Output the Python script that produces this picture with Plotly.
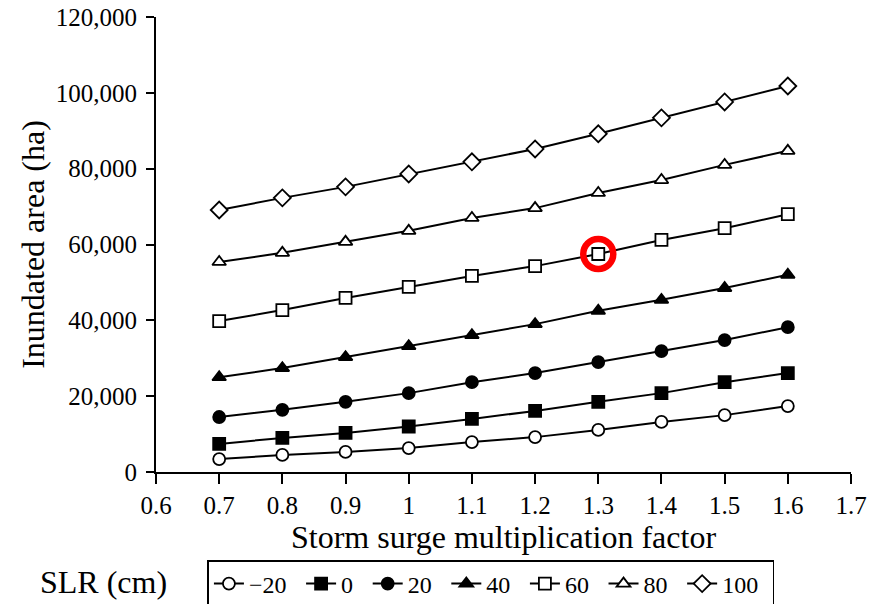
import plotly.graph_objects as go

factors = [0.7, 0.8, 0.9, 1.0, 1.1, 1.2, 1.3, 1.4, 1.5, 1.6]
slr_labels = ["\u221220", "0", "20", "40", "60", "80", "100"]
area_m20 = [3400, 4500, 5300, 6300, 7900, 9200, 11100, 13200, 15000, 17400]
area_0 = [7400, 9000, 10300, 12000, 14000, 16100, 18500, 20800, 23700, 26100]
area_20 = [14500, 16400, 18500, 20800, 23700, 26100, 29000, 31900, 34800, 38200]
area_40 = [25000, 27400, 30300, 33200, 36100, 39000, 42500, 45400, 48500, 52000]
area_60 = [39800, 42700, 45900, 48800, 51700, 54300, 57500, 61200, 64300, 68000]
area_80 = [55400, 57800, 60700, 63600, 67000, 69600, 73600, 77000, 81000, 84700]
area_100 = [69100, 72300, 75200, 78600, 81800, 85200, 89200, 93400, 97600, 101800]
series = [area_m20, area_0, area_20, area_40, area_60, area_80, area_100]
symbols = ["circle-open", "square", "circle", "triangle-up", "square-open", "triangle-up-open", "diamond-open"]
highlight_index = 6  # factor 1.3 on the 60 cm series

FONT = "Liberation Serif, Times New Roman, DejaVu Serif, serif"
fig = go.Figure()
for lab, ys, sym in zip(slr_labels, series, symbols):
    is_open = sym.endswith("open")
    fig.add_trace(go.Scatter(
        x=factors, y=ys, name=lab + "\u2009\u2009", mode="lines+markers",
        line=dict(color="black", width=2),
        marker=dict(symbol=sym.replace("-open", "") if is_open else sym,
                    size=12 if "diamond" not in sym else 13,
                    color="white" if is_open else "black",
                    line=dict(color="black", width=1.8)),
    ))

fig.add_trace(go.Scatter(
    x=[factors[highlight_index]], y=[area_60[highlight_index]], mode="markers",
    marker=dict(symbol="circle-open", size=30, color="red", line=dict(color="red", width=6.5)),
    showlegend=False, hoverinfo="skip"))

fig.update_layout(
    width=877, height=604,
    margin=dict(l=156, r=26, t=17, b=132),
    paper_bgcolor="white", plot_bgcolor="white",
    font=dict(family=FONT, color="black", size=24),
    showlegend=True,
    legend=dict(orientation="h", xref="paper", yref="container", x=0.074, y=1 - 560 / 604,
                xanchor="left", yanchor="top",
                bordercolor="black", borderwidth=1.5, font=dict(size=24, family=FONT),
                itemwidth=30, traceorder="normal"),
    xaxis=dict(range=[0.6, 1.7], dtick=0.1, tick0=0.6, showgrid=False, zeroline=False,
               showline=True, linecolor="black", linewidth=2, ticks="outside", ticklen=10,
               tickwidth=1.5, tickcolor="black", automargin=False, ticklabeloverflow="allow",
               tickfont=dict(size=25, family=FONT),
               title=dict(text="Storm surge multiplication factor", font=dict(size=32, family=FONT), standoff=7)),
    yaxis=dict(range=[0, 120000], dtick=20000, showgrid=False, zeroline=False,
               showline=True, linecolor="black", linewidth=2, ticks="outside", ticklen=8,
               tickwidth=1.5, tickcolor="black", tickformat=",d", automargin=False,
               ticklabelstandoff=4, ticklabeloverflow="allow",
               tickfont=dict(size=25, family=FONT),
               title=dict(text="Inundated area (ha)", font=dict(size=32, family=FONT), standoff=2)),
    annotations=[dict(text="SLR (cm)", xref="paper", yref="paper", x=-0.17, y=-0.242,
                      xanchor="left", yanchor="middle", showarrow=False,
                      font=dict(size=32, family=FONT))],
)
fig.write_html("out.html", config={"displayModeBar": False},
               post_script="document.body.style.margin='0';")
